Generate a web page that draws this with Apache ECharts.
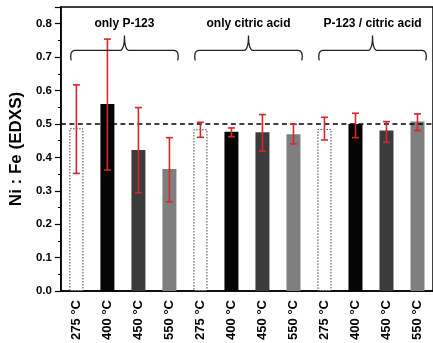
<!DOCTYPE html>
<html><head><meta charset="utf-8">
<script src="https://cdn.jsdelivr.net/npm/echarts@6/dist/echarts.min.js"></script>
<style>html,body{margin:0;padding:0;background:#fff}#c{width:433px;height:343px}</style>
</head><body><div id="c"></div>
<script>
// ---- data ----
const categories = ['275 °C','400 °C','450 °C','550 °C','275 °C','400 °C','450 °C','550 °C','275 °C','400 °C','450 °C','550 °C'];
const ratio   = [0.487,0.560,0.422,0.365, 0.484,0.477,0.475,0.469, 0.485,0.500,0.480,0.507];
const errLow  = [0.352,0.362,0.294,0.267, 0.460,0.462,0.419,0.440, 0.452,0.459,0.445,0.480];
const errHigh = [0.617,0.754,0.549,0.459, 0.505,0.488,0.528,0.499, 0.520,0.532,0.507,0.530];
const groupNames = ['only P-123','only citric acid','P-123 / citric acid'];
const groupFirst = [0,4,8];
const groupLast  = [3,7,11];
const referenceRatio = 0.5;

// ---- styles ----
const FONT = 'Arial, "Liberation Sans", sans-serif';
const RED = '#d8262b';
const fillByTemp = {'275 °C': null, '400 °C': '#050505', '450 °C': '#3b3b3b', '550 °C': '#7f7f7f'};

const chart = echarts.init(document.getElementById('c'), null, {renderer: 'canvas'});

const barData = ratio.map((v, i) => {
  const f = fillByTemp[categories[i]];
  return f ? {value: v, itemStyle: {color: f}}
           : {value: v, itemStyle: {color: '#ffffff', borderColor: '#444', borderWidth: 1, borderType: [1.5, 1.5]}};
});

chart.setOption({
  animation: false,
  backgroundColor: '#fff',
  grid: {left: 57, top: 7, width: 384, height: 284, show: true, borderColor: '#000', borderWidth: 1.5, backgroundColor: 'transparent'},
  xAxis: {
    type: 'category', data: categories,
    axisLine: {lineStyle: {color: '#000', width: 1.5}},
    axisTick: {alignWithLabel: true, length: 5, lineStyle: {color: '#000', width: 1.5}},
    axisLabel: {interval: 0, rotate: 90, margin: 9, color: '#000', fontWeight: 'bold', fontSize: 13, fontFamily: FONT},
    splitLine: {show: false}
  },
  yAxis: {
    type: 'value', min: 0, max: 0.85, interval: 0.1,
    name: 'Ni : Fe (EDXS)', nameLocation: 'middle', nameGap: 31, nameRotate: 90,
    nameTextStyle: {color: '#000', fontWeight: 'bold', fontSize: 17, fontFamily: FONT},
    axisLine: {show: true, lineStyle: {color: '#000', width: 1.5}},
    axisTick: {show: true, length: 6, lineStyle: {color: '#000', width: 1.2}},
    minorTick: {show: true, splitNumber: 2, length: 3, lineStyle: {color: '#000', width: 1}},
    axisLabel: {margin: 9, color: '#000', fontWeight: 'bold', fontSize: 11.5, fontFamily: FONT, showMaxLabel: false,
      formatter: v => (v > 0.81 ? '' : v.toFixed(1))},
    splitLine: {show: false}
  },
  series: [
    {
      type: 'bar', data: barData, barWidth: 14,
      markLine: {
        silent: true, symbol: ['none', 'none'], label: {show: false},
        lineStyle: {color: '#000', type: [5, 3.5], width: 1.6},
        data: [{yAxis: referenceRatio}]
      },
      z: 2
    },
    {
      type: 'custom', z: 5,
      data: errLow.map((l, i) => [i, l, errHigh[i]]),
      encode: {x: 0, y: [1, 2]},
      renderItem: (params, api) => {
        const lo = api.coord([api.value(0), api.value(1)]);
        const hi = api.coord([api.value(0), api.value(2)]);
        const w = 3.5;
        const st = {stroke: RED, lineWidth: 1.6};
        return {type: 'group', children: [
          {type: 'line', shape: {x1: lo[0], y1: lo[1], x2: hi[0], y2: hi[1]}, style: st},
          {type: 'line', shape: {x1: lo[0] - w, y1: lo[1], x2: lo[0] + w, y2: lo[1]}, style: st},
          {type: 'line', shape: {x1: hi[0] - w, y1: hi[1], x2: hi[0] + w, y2: hi[1]}, style: st}
        ]};
      }
    },
    {
      type: 'custom', z: 6, silent: true,
      data: groupFirst.map((f, i) => [f, groupLast[i], i]),
      renderItem: (params, api) => {
        const bw = api.size([1, 0])[0];
        const pF = api.coord([api.value(0), 0.72]);
        const pL = api.coord([api.value(1), 0.72]);
        const yLine = pF[1];
        const yEnd = api.coord([0, 0.69])[1];
        const yPeak = api.coord([0, 0.765])[1];
        const yText = api.coord([0, 0.80])[1];
        const xL = pF[0] - 0.2 * bw;
        const xR = pL[0] + 0.3 * bw;
        const xm = (pF[0] + pL[0]) / 2 + 0.05 * bw;
        const r = 5;
        const d = `M ${xL + 1} ${yEnd} C ${xL} ${yEnd - 4} ${xL} ${yLine} ${xL + r} ${yLine} ` +
                  `L ${xm - r} ${yLine} Q ${xm} ${yLine} ${xm} ${yPeak} Q ${xm} ${yLine} ${xm + r} ${yLine} ` +
                  `L ${xR - r} ${yLine} C ${xR} ${yLine} ${xR} ${yEnd - 4} ${xR - 1} ${yEnd}`;
        return {type: 'group', children: [
          {type: 'path', shape: {pathData: d}, style: {stroke: '#222', lineWidth: 1.3, fill: null}},
          {type: 'text', x: xm, y: yText, style: {text: groupNames[api.value(2)], fill: '#000',
            font: 'bold 12px ' + FONT, align: 'center', verticalAlign: 'middle'}}
        ]};
      }
    }
  ]
});
</script>
</body></html>
